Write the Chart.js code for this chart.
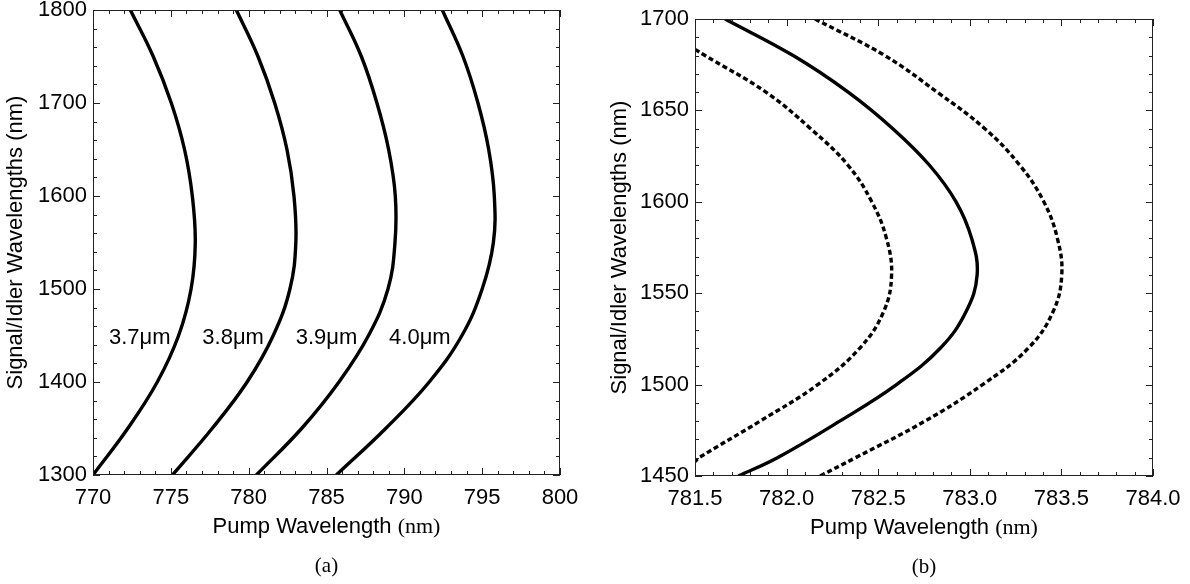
<!DOCTYPE html>
<html>
<head>
<meta charset="utf-8">
<script src="https://cdn.jsdelivr.net/npm/chart.js@4/dist/chart.umd.min.js"></script>
<style>
  html, body { margin: 0; padding: 0; background: #fff; }
  .panel { position: absolute; top: 0; width: 595px; height: 584px; }
  #pa { left: 0; }
  #pb { left: 595px; }
</style>
</head>
<body>
<div class="panel" id="pa"><canvas id="chartA"></canvas></div>
<div class="panel" id="pb"><canvas id="chartB"></canvas></div>
<script>
// (a) pump wavelength at each signal/idler wavelength, one curve per poling period
const signalA = [1800, 1750, 1700, 1650, 1600, 1550, 1500, 1450, 1400, 1350, 1300];
const pump37 = [772.40, 773.87, 775.03, 775.88, 776.38, 776.57, 776.30, 775.50, 774.13, 772.23, 770.00];
const pump38 = [779.21, 780.60, 781.67, 782.46, 782.91, 783.03, 782.65, 781.58, 779.90, 777.65, 775.10];
const pump39 = [785.85, 787.24, 788.24, 788.99, 789.42, 789.40, 788.95, 787.70, 785.80, 783.40, 780.49];
const pump40 = [792.44, 793.77, 794.73, 795.42, 795.78, 795.72, 795.00, 793.70, 791.60, 788.80, 785.63];
const periodLabels = ['3.7μm', '3.8μm', '3.9μm', '4.0μm'];
const periodLabelPump = [773, 779, 785, 791];
const periodLabelSignal = 1447;

// (b) solid curve and the two dotted ones around it
const signalB = [1700, 1680, 1660, 1640, 1620, 1600, 1580, 1560, 1540, 1520, 1500, 1480, 1460, 1450];
const pumpSolid = [781.664, 782.036, 782.336, 782.580, 782.780, 782.925, 783.010, 783.040, 782.980, 782.840, 782.600, 782.290, 781.950, 781.736];
const pumpOuter = [782.155, 782.536, 782.822, 783.082, 783.273, 783.404, 783.478, 783.502, 783.455, 783.320, 783.070, 782.755, 782.376, 782.182];
const signalInner = [1683.4, 1680, 1660, 1640, 1620, 1600, 1580, 1560, 1540, 1520, 1500, 1480, 1460, 1457.9];
const pumpInner = [781.500, 781.555, 781.887, 782.131, 782.335, 782.465, 782.545, 782.573, 782.530, 782.400, 782.170, 781.855, 781.522, 781.500];

Chart.defaults.font.family = '"Liberation Sans", Arial, sans-serif';
Chart.defaults.color = '#000';

function toPoints(xs, ys) {
    return xs.map((v, i) => ({ x: v, y: ys[i] }));
}

function curve(xs, ys, dashed) {
    return {
        data: toPoints(xs, ys),
        borderColor: '#000',
        borderWidth: 3.4,
        borderDash: dashed ? [5, 3] : [],
        pointRadius: 0,
        fill: false,
        tension: 0.4,
        clip: 0
    };
}

// frame, inward ticks on all four sides, curve labels, x title and caption
const framePlugin = {
    id: 'frameTicks',
    afterDatasetsDraw(chart, args, o) {
        const ctx = chart.ctx;
        const a = chart.chartArea;
        const xs = chart.scales.x, ys = chart.scales.y;
        ctx.save();
        ctx.strokeStyle = '#222';
        ctx.lineWidth = 1;
        ctx.strokeRect(a.left + 0.5, a.top + 0.5, a.right - a.left - 1, a.bottom - a.top - 1);

        const nx = Math.round((xs.max - xs.min) / o.xMinor);
        for (let i = 0; i <= nx; i++) {
            const v = xs.min + i * o.xMinor;
            const major = i % Math.round(o.xMajor / o.xMinor) === 0;
            const len = major ? 7 : 4;
            const px = Math.round(xs.getPixelForValue(v)) + 0.5;
            ctx.beginPath();
            ctx.moveTo(px, a.bottom); ctx.lineTo(px, a.bottom - len);
            ctx.moveTo(px, a.top); ctx.lineTo(px, a.top + len);
            ctx.stroke();
        }
        const ny = Math.round((ys.max - ys.min) / o.yMinor);
        for (let i = 0; i <= ny; i++) {
            const v = ys.min + i * o.yMinor;
            const major = i % Math.round(o.yMajor / o.yMinor) === 0;
            const len = major ? 7 : 4;
            const py = Math.round(ys.getPixelForValue(v)) + 0.5;
            ctx.beginPath();
            ctx.moveTo(a.left, py); ctx.lineTo(a.left + len, py);
            ctx.moveTo(a.right, py); ctx.lineTo(a.right - len, py);
            ctx.stroke();
        }

        ctx.fillStyle = '#000';
        ctx.textBaseline = 'middle';
        ctx.textAlign = 'center';
        ctx.font = '22px "Liberation Sans", Arial, sans-serif';
        (o.labels || []).forEach((t, i) => {
            ctx.fillText(t, xs.getPixelForValue(o.labelX[i]), ys.getPixelForValue(o.labelY));
        });

        // x title: sans text with serif unit, as in the figure
        const cx = (a.left + a.right) / 2;
        const sansPart = 'Pump Wavelength ';
        const serifPart = '(nm)';
        const sansFont = '22px "Liberation Sans", Arial, sans-serif';
        const serifFont = '22px "Liberation Serif", "Times New Roman", serif';
        ctx.font = sansFont;
        const w1 = ctx.measureText(sansPart).width;
        ctx.font = serifFont;
        const w2 = ctx.measureText(serifPart).width;
        const x0 = cx - (w1 + w2) / 2;
        const ty = a.bottom + 52;
        ctx.textAlign = 'left';
        ctx.font = sansFont;
        ctx.fillText(sansPart, x0, ty);
        ctx.font = serifFont;
        ctx.fillText(serifPart, x0 + w1, ty);

        ctx.textAlign = 'center';
        ctx.font = '21px "Liberation Serif", "Times New Roman", serif';
        ctx.fillText(o.caption, cx, a.bottom + 91);
        ctx.restore();
    }
};

function makeChart(id, datasets, cfg) {
    return new Chart(document.getElementById(id), {
        type: 'line',
        data: { datasets: datasets },
        options: {
            responsive: true,
            maintainAspectRatio: false,
            animation: false,
            layout: { padding: { left: 0, top: cfg.top, right: cfg.right, bottom: 0 } },
            plugins: {
                legend: { display: false },
                tooltip: { enabled: false },
                frameTicks: cfg.frame
            },
            scales: {
                x: {
                    type: 'linear',
                    min: cfg.xMin, max: cfg.xMax,
                    grid: { display: false, drawTicks: false },
                    border: { display: false },
                    ticks: {
                        stepSize: cfg.xStep,
                        autoSkip: false,
                        maxRotation: 0,
                        padding: 10,
                        font: { size: 22 },
                        callback: cfg.xFmt
                    },
                    afterFit: s => { s.height = cfg.xHeight; s.paddingLeft = 0; s.paddingRight = 0; }
                },
                y: {
                    type: 'linear',
                    min: cfg.yMin, max: cfg.yMax,
                    grid: { display: false, drawTicks: false },
                    border: { display: false },
                    ticks: {
                        stepSize: cfg.yStep,
                        autoSkip: false,
                        padding: 6,
                        font: { size: 22 },
                        callback: v => String(v)
                    },
                    title: {
                        display: true,
                        text: 'Signal/Idler Wavelengths (nm)',
                        font: { size: 22 },
                        padding: { top: cfg.yTitlePad, bottom: 0 }
                    },
                    afterFit: s => { s.width = cfg.yWidth; s.paddingTop = 0; s.paddingBottom = 0; }
                }
            }
        },
        plugins: [framePlugin]
    });
}

makeChart('chartA', [
    curve(pump37, signalA, false),
    curve(pump38, signalA, false),
    curve(pump39, signalA, false),
    curve(pump40, signalA, false)
], {
    top: 10, right: 35, xHeight: 109, yWidth: 93, yTitlePad: 3,
    xMin: 770, xMax: 800, xStep: 5, yMin: 1300, yMax: 1800, yStep: 100,
    xFmt: v => String(v),
    frame: {
        xMinor: 1, xMajor: 5, yMinor: 20, yMajor: 100,
        labels: periodLabels, labelX: periodLabelPump, labelY: periodLabelSignal,
        caption: '(a)'
    }
});

makeChart('chartB', [
    curve(pumpSolid, signalB, false),
    curve(pumpInner, signalInner, true),
    curve(pumpOuter, signalB, true)
], {
    top: 19, right: 37, xHeight: 108, yWidth: 100, yTitlePad: 12,
    xMin: 781.5, xMax: 784, xStep: 0.5, yMin: 1450, yMax: 1700, yStep: 50,
    xFmt: v => Number(v).toFixed(1),
    frame: {
        xMinor: 0.1, xMajor: 0.5, yMinor: 10, yMajor: 50,
        caption: '(b)'
    }
});
</script>
</body>
</html>
